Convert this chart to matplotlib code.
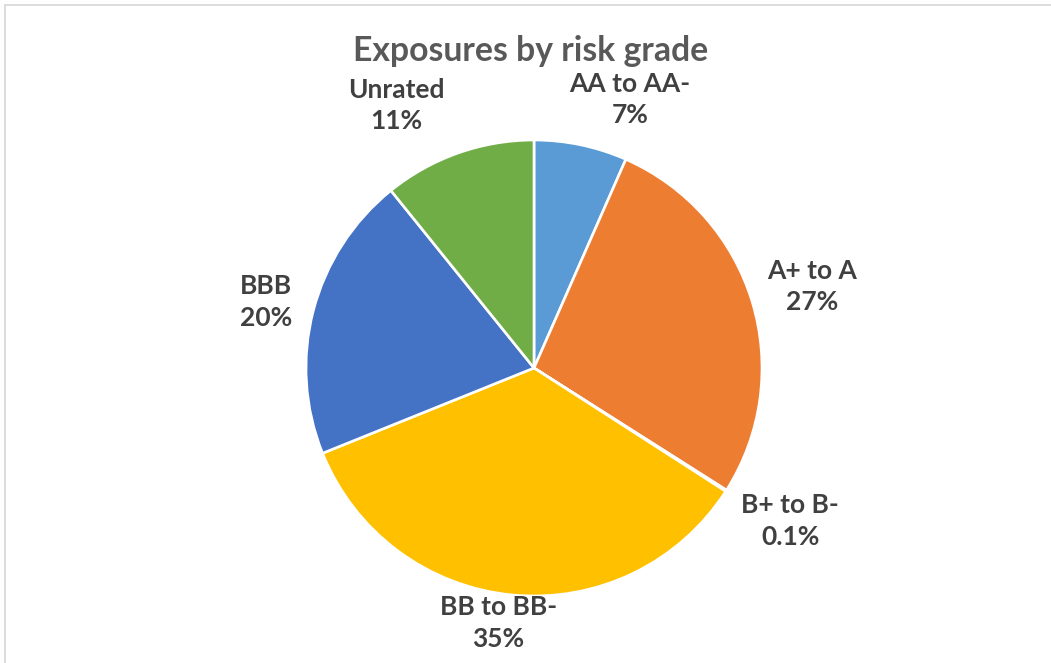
import numpy as np
import matplotlib
matplotlib.use("Agg")
import matplotlib.pyplot as plt
from matplotlib.lines import Line2D

# ---- data ----
categories = ["AA to AA-", "A+ to A", "B+ to B-", "BB to BB-", "BBB", "Unrated"]
shares = [6.6, 27.4, 0.1, 34.8, 20.3, 10.8]
colors = ["#5B9BD5", "#ED7D31", "#A5A5A5", "#FFC000", "#4472C4", "#70AD47"]
title = "Exposures by risk grade"

# label layout tweaks (style): radial distance factor and angular nudge (deg, clockwise)
label_dist = [1.25, 1.27, 1.31, 1.13, 1.21, 1.30]
label_nudge = [7.8, 0.6, -1.7, 2.6, -0.8, -8.3]

W, H = 1051, 663
fig = plt.figure(figsize=(W / 100, H / 100), dpi=100)
ax = fig.add_axes([0, 0, 1, 1])

cx, cy, R = 534, H - 368, 228
wedges, _ = ax.pie(shares, colors=colors, startangle=90, counterclock=False,
                   center=(cx, cy), radius=R,
                   wedgeprops=dict(edgecolor="white", linewidth=1.9))
ax.set_xlim(0, W)
ax.set_ylim(0, H)
ax.axis("off")

def fmt(v):
    return f"{v:.1f}%" if v < 1 else f"{v:.0f}%"

total = sum(shares)
cum = 0.0
for i, (cat, v) in enumerate(zip(categories, shares)):
    mid = (cum + v / 2) / total * 360.0
    cum += v
    ang = np.deg2rad(mid + label_nudge[i])
    r = R * label_dist[i]
    x = cx + r * np.sin(ang)
    y = cy + r * np.cos(ang)
    ax.text(x, y, f"{cat}\n{fmt(v)}", ha="center", va="center",
            fontsize=19, fontweight="bold", color="#404040",
            family="Lato", linespacing=1.38, multialignment="center")

fig.text(531 / W, 1 - 51 / H, title, ha="center", va="center",
         fontsize=24.3, fontweight="bold", color="#595959", family="Lato")

# chart frame (light gray)
fig.add_artist(Line2D([5 / W, 5 / W], [0, 1 - 5 / H], transform=fig.transFigure,
                      color="#D9D9D9", linewidth=1.3))
fig.add_artist(Line2D([5 / W, 1], [1 - 5 / H, 1 - 5 / H], transform=fig.transFigure,
                      color="#D9D9D9", linewidth=1.3))

fig.savefig("out.png", dpi=100, facecolor="white")
